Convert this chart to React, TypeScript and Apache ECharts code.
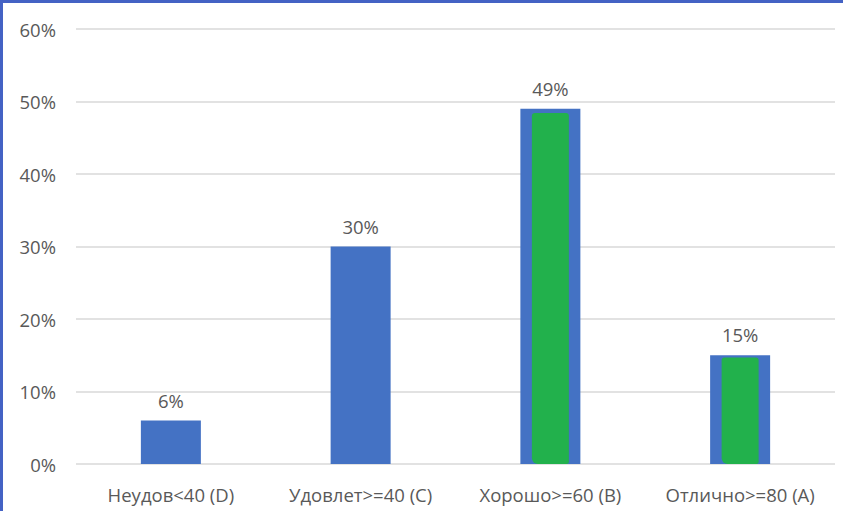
import React, { useEffect, useRef } from "react";
import * as echarts from "echarts";

const categories = ["Неудов<40 (D)", "Удовлет>=40 (C)", "Хорошо>=60 (B)", "Отлично>=80 (A)"];
const percentValues = [6, 30, 49, 15];
const markerValues: (number | string)[] = ["-", "-", 48.4, 14.7];
const yTicks = { min: 0, max: 60, interval: 10 };

export default function App() {
  const ref = useRef<HTMLDivElement>(null);
  useEffect(() => {
    document.body.style.margin = "0";
    const chart = echarts.init(ref.current!, null, { renderer: "svg" });
    const font = "Open Sans";
    const fs = 18.5;
    chart.setOption({
      animation: false,
      backgroundColor: "#ffffff",
      textStyle: { fontFamily: font },
      grid: { left: 76, right: 19, top: 29, bottom: 47 },
      xAxis: [
        {
          type: "category",
          data: categories,
          axisLine: { show: false },
          axisTick: { show: false },
          axisLabel: { color: "#595959", fontSize: fs, margin: 21, fontFamily: font, interval: 0, hideOverlap: false },
        },
        {
          type: "category",
          data: categories,
          show: false,
        },
      ],
      yAxis: {
        type: "value",
        min: yTicks.min,
        max: yTicks.max,
        interval: yTicks.interval,
        axisLine: { show: false },
        axisTick: { show: false },
        axisLabel: { color: "#595959", fontSize: fs, margin: 20, formatter: "{value}%", fontFamily: font },
        splitLine: { lineStyle: { color: "#d9d9d9", width: 1.5 } },
      },
      series: [
        {
          type: "bar",
          data: percentValues,
          xAxisIndex: 0,
          barWidth: 60,
          itemStyle: { color: "#4472c4" },
          label: {
            show: true,
            position: "top",
            distance: 11,
            formatter: "{c}%",
            color: "#595959",
            fontSize: fs,
            fontFamily: font,
          },
          z: 2,
        },
        {
          type: "bar",
          data: markerValues,
          xAxisIndex: 1,
          barWidth: 37,
          itemStyle: { color: "#22b14c", borderRadius: [3, 3, 2, 6] },
          z: 3,
        },
      ],
      graphic: [
        { type: "rect", left: 0, top: 0, shape: { width: 3, height: 511 }, style: { fill: "#4462c4" } },
        { type: "rect", left: 0, top: 0, shape: { width: 843, height: 3 }, style: { fill: "#4462c4" } },
      ],
    });
    return () => chart.dispose();
  }, []);
  return <div ref={ref} style={{ width: 854, height: 511 }} />;
}
